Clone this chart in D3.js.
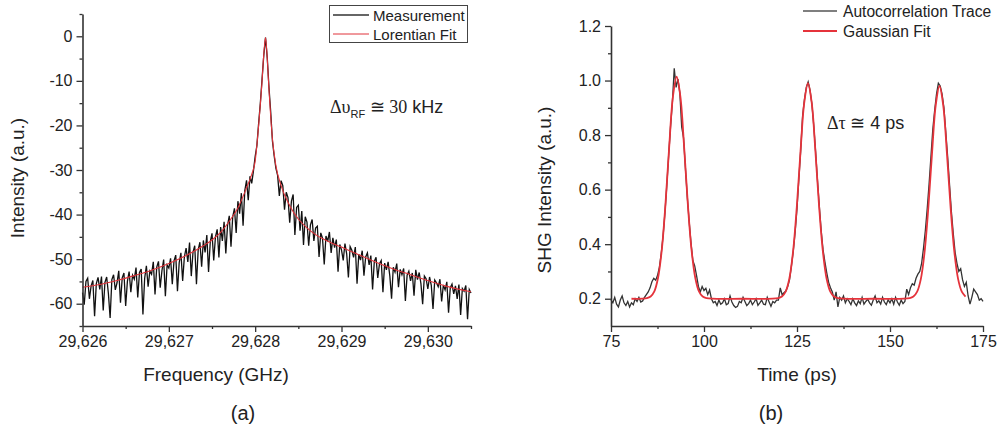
<!DOCTYPE html>
<html><head><meta charset="utf-8">
<script src="https://cdn.jsdelivr.net/npm/d3@7"></script>
<style>
body{margin:0;background:#fff;}
svg text{font-family:"Liberation Sans",Arial,sans-serif;fill:#222;}
</style></head>
<body>
<svg id="chart" width="999" height="430"></svg>
<script>
// ---------- Panel (a): RF spectrum ----------
const freqStart = 29626, freqStep = 0.02;
const measDb = [
-57.5,-60.2,-55.0,-54.3,-58.9,-56.0,-54.8,-62.8,-55.5,-54.1,
-56.8,-53.9,-61.5,-55.2,-54.0,-57.7,-63.2,-54.6,-53.5,-56.9,
-55.3,-52.6,-59.8,-54.2,-53.1,-60.5,-55.0,-52.8,-57.4,-53.6,
-54.5,-51.9,-58.6,-53.0,-52.2,-62.4,-54.3,-51.5,-56.2,-52.7,
-53.4,-50.6,-57.9,-51.8,-50.5,-56.4,-52.6,-50.1,-58.3,-51.3,
-52.0,-49.8,-55.6,-50.4,-49.1,-57.2,-50.8,-48.6,-54.9,-49.5,
-47.5,-50.6,-46.3,-53.8,-48.4,-47.0,-55.6,-47.9,-46.2,-51.7,
-45.8,-48.5,-44.6,-52.9,-46.1,-44.2,-50.3,-45.0,-43.3,-49.6,
-42.8,-45.9,-41.6,-48.7,-42.4,-40.3,-47.2,-40.5,-38.6,-44.1,
-37.0,-39.8,-35.2,-42.5,-34.6,-32.3,-36.8,-31.4,-33.0,-30.2,
-27.0,-24.5,-19.6,-15.0,-9.6,-4.2,
-0.3,
-4.8,-11.5,-17.0,-23.5,-26.8,-29.6,-31.2,-35.8,-32.4,
-33.5,-38.9,-35.0,-36.2,-41.8,-37.0,-35.5,-44.6,-38.4,-37.9,
-43.6,-39.2,-46.8,-40.5,-41.7,-47.0,-42.3,-41.1,-45.9,-43.0,
-42.6,-49.5,-44.1,-45.3,-51.2,-44.8,-46.0,-43.9,-48.6,-45.2,
-47.4,-45.6,-52.8,-46.7,-47.9,-50.3,-46.5,-48.8,-54.1,-47.2,
-48.0,-49.6,-47.3,-55.5,-48.9,-50.2,-48.1,-53.7,-49.5,-48.6,
-51.3,-49.2,-56.8,-50.5,-49.6,-54.2,-51.0,-50.3,-57.4,-50.9,
-52.4,-50.6,-53.8,-58.9,-51.8,-52.9,-51.0,-56.3,-52.3,-53.5,
-52.1,-59.4,-53.6,-52.7,-54.9,-53.1,-58.2,-52.4,-54.6,-53.0,
-55.5,-60.1,-53.8,-54.4,-56.7,-54.0,-55.9,-61.2,-54.7,-55.3,
-56.2,-54.5,-59.5,-55.8,-56.9,-55.1,-62.0,-56.4,-55.6,-57.8,
-56.0,-58.9,-55.7,-62.5,-56.6,-57.2,-55.9,-63.5,-56.8,-57.6
];
const lorFreq = [29626.0,29626.2,29626.4,29626.6,29626.8,29627.0,29627.2,29627.4,29627.5,29627.6,29627.7,29627.8,29627.9,29627.96,29628.0,29628.04,29628.08,29628.10,29628.12,29628.14,29628.16,29628.18,29628.20,29628.24,29628.30,29628.40,29628.50,29628.60,29628.70,29628.80,29629.0,29629.2,29629.4,29629.6,29629.8,29630.0,29630.2,29630.5];
const lorDb   = [-56.3,-55.7,-54.8,-53.7,-52.5,-51.0,-49.2,-47.0,-45.7,-44.0,-41.5,-38.5,-34.0,-31.0,-28.0,-20.0,-10.0,-4.0,-0.3,-5.0,-12.0,-18.0,-23.0,-29.0,-33.5,-38.0,-41.0,-43.0,-44.5,-45.6,-47.3,-49.0,-50.7,-52.2,-53.5,-54.8,-56.0,-57.3];
const freqTicks = [29626,29627,29628,29629,29630];
const freqTickLabels = ["29,626","29,627","29,628","29,629","29,630"];
const dbTicks = [0,-10,-20,-30,-40,-50,-60];
const dbTickLabels = ["0","-10","-20","-30","-40","-50","-60"];
const legendA = ["Measurement","Lorentian Fit"];

// ---------- Panel (b): autocorrelation ----------
const timeStart = 75, timeStep = 0.5;
const acTrace = [
0.195,0.185,0.205,0.180,0.170,0.195,0.210,0.185,0.175,0.190,
0.170,0.185,0.178,0.200,0.190,0.205,0.188,0.192,0.205,0.215,
0.225,0.240,0.262,0.275,0.268,0.285,0.315,0.365,0.430,0.515,
0.615,0.725,0.830,0.920,1.045,0.975,1.005,0.955,0.830,0.790,
0.680,0.575,0.485,0.405,0.340,0.320,0.285,0.245,0.225,0.245,
0.230,0.238,0.215,0.232,0.200,0.185,0.190,0.175,0.195,0.180,
0.185,0.200,0.178,0.182,0.210,0.188,0.175,0.168,0.172,0.190,
0.185,0.205,0.190,0.175,0.182,0.195,0.178,0.188,0.200,0.176,
0.185,0.195,0.180,0.178,0.205,0.188,0.172,0.190,0.185,0.195,
0.195,0.240,0.215,0.222,0.228,0.245,0.270,0.320,0.375,0.445,
0.530,0.640,0.745,0.870,0.930,0.975,0.995,0.965,0.915,0.835,
0.740,0.635,0.540,0.450,0.380,0.335,0.295,0.260,0.240,0.225,
0.195,0.225,0.170,0.205,0.195,0.210,0.185,0.200,0.190,0.178,
0.200,0.185,0.175,0.192,0.182,0.205,0.180,0.190,0.198,0.185,
0.176,0.195,0.210,0.185,0.192,0.180,0.205,0.188,0.178,0.196,
0.185,0.200,0.180,0.205,0.188,0.176,0.195,0.182,0.190,0.235,
0.215,0.240,0.255,0.250,0.275,0.290,0.300,0.330,0.385,0.450,
0.530,0.620,0.720,0.820,0.890,0.950,0.990,0.980,0.950,0.900,
0.810,0.720,0.620,0.520,0.440,0.370,0.330,0.300,0.310,0.270,
0.245,0.260,0.210,0.180,0.205,0.235,0.225,0.215,0.195,0.200,
0.190
];
const gaussTime = [80.5,84.65,85.65,86.65,87.65,88.65,89.65,90.65,91.65,92.65,93.65,94.65,95.65,96.65,97.65,98.65,99.65,100.65,110.3,
119.95,120.95,121.95,122.95,123.95,124.95,125.95,126.95,127.95,128.95,129.95,130.95,131.95,132.95,133.95,134.95,135.95,145.6,
155.3,156.3,157.3,158.3,159.3,160.3,161.3,162.3,163.3,164.3,165.3,166.3,167.3,168.3,169.3,170.3];
const gaussVal = [0.200,0.202,0.208,0.227,0.277,0.379,0.548,0.758,0.941,1.014,0.941,0.758,0.548,0.379,0.277,0.227,0.208,0.202,0.200,
0.202,0.208,0.226,0.274,0.374,0.537,0.741,0.919,0.990,0.919,0.741,0.537,0.374,0.274,0.226,0.208,0.202,0.200,
0.202,0.208,0.226,0.273,0.372,0.533,0.734,0.910,0.980,0.910,0.734,0.533,0.372,0.273,0.226,0.208];
const timeTicks = [75,100,125,150,175];
const timeTickLabels = ["75","100","125","150","175"];
const shgTicks = [0.2,0.4,0.6,0.8,1.0,1.2];
const shgTickLabels = ["0.2","0.4","0.6","0.8","1.0","1.2"];
const legendB = ["Autocorrelation Trace","Gaussian Fit"];

const svg = d3.select("#chart");
const AX = "#333";

function drawAxes(g, x, y, xt, xtl, xminor, yt, ytl, yminor){
  const xa = d3.axisBottom(x).tickValues(xt).tickFormat((d,i)=>xtl[i]).tickSize(6).tickSizeOuter(0).tickPadding(4);
  const ya = d3.axisLeft(y).tickValues(yt).tickFormat((d,i)=>ytl[i]).tickSize(6).tickSizeOuter(0).tickPadding(4);
  const y0 = y.range()[0], x0 = x.range()[0];
  const gx = g.append("g").attr("transform",`translate(0,${y0})`).call(xa);
  const gy = g.append("g").attr("transform",`translate(${x0},0)`).call(ya);
  g.append("g").attr("transform",`translate(0,${y0})`)
    .call(d3.axisBottom(x).tickValues(xminor).tickFormat("").tickSize(3).tickSizeOuter(0))
    .select(".domain").remove();
  g.append("g").attr("transform",`translate(${x0},0)`)
    .call(d3.axisLeft(y).tickValues(yminor).tickFormat("").tickSize(3).tickSizeOuter(0))
    .select(".domain").remove();
  g.selectAll(".domain").attr("stroke",AX).attr("stroke-width",1.6);
  g.selectAll(".tick line").attr("stroke",AX).attr("stroke-width",1.3);
  gx.selectAll("text").attr("font-size",16).attr("fill","#222").attr("font-family","Liberation Sans, Arial, sans-serif");
  gy.selectAll("text").attr("font-size",16).attr("fill","#222").attr("font-family","Liberation Sans, Arial, sans-serif");
}

// ----- Panel a -----
const xL = d3.scaleLinear().domain([29626,29630.5]).range([82.5,471]);
const yL = d3.scaleLinear().domain([-65,5]).range([326,14]);
const gA = svg.append("g");
const lineMeas = d3.line().x((d,i)=>xL(freqStart+i*freqStep)).y(d=>yL(d));
gA.append("path").datum(measDb).attr("d",lineMeas).attr("fill","none").attr("stroke","#111").attr("stroke-width",1.3);
const lineLor = d3.line().x((d,i)=>xL(lorFreq[i])).y(d=>yL(d)).curve(d3.curveMonotoneX);
gA.append("path").datum(lorDb).attr("d",lineLor).attr("fill","none").attr("stroke","#e0333a").attr("stroke-width",1.1);
drawAxes(gA,xL,yL,freqTicks,freqTickLabels,[29626.5,29627.5,29628.5,29629.5,29630.5],
  dbTicks,dbTickLabels,[5,-5,-15,-25,-35,-45,-55,-65]);
gA.append("text").attr("x",216).attr("y",381).attr("text-anchor","middle").attr("font-size",19).text("Frequency (GHz)");
gA.append("text").attr("transform","translate(24,178) rotate(-90)").attr("text-anchor","middle").attr("font-size",19).text("Intensity (a.u.)");
// legend box
gA.append("rect").attr("x",329.5).attr("y",5.5).attr("width",138).attr("height",37).attr("fill","#fff").attr("stroke","#444").attr("stroke-width",1);
[["#333",1.5],["#e0333a",1]].forEach((s,i)=>{
  const yy = 15 + i*19;
  gA.append("line").attr("x1",333).attr("x2",369).attr("y1",yy).attr("y2",yy).attr("stroke",s[0]).attr("stroke-width",s[1]);
  gA.append("text").attr("x",373).attr("y",yy+5.5).attr("font-size",15).text(legendA[i]);
});
// annotation
const annA = gA.append("text").attr("x",330).attr("y",113).attr("font-size",18);
annA.append("tspan").attr("font-family","Liberation Serif, Times New Roman, serif").text("Δυ");
annA.append("tspan").attr("font-size",11).attr("dy",5).text("RF");
annA.append("tspan").attr("dy",-5).attr("font-family","Liberation Serif, Times New Roman, serif").text(" ≅ 30");
annA.append("tspan").text(" kHz");
gA.append("text").attr("x",243).attr("y",420).attr("text-anchor","middle").attr("font-size",20)
  .attr("font-family","DejaVu Serif, Liberation Serif, serif").text("(a)");

// ----- Panel b -----
const xR = d3.scaleLinear().domain([75,175]).range([611,983]);
const yR = d3.scaleLinear().domain([0.1,1.2]).range([326,26]);
const gB = svg.append("g");
const lineAc = d3.line().x((d,i)=>xR(timeStart+i*timeStep)).y(d=>yR(d));
gB.append("path").datum(acTrace).attr("d",lineAc).attr("fill","none").attr("stroke","#333").attr("stroke-width",1.3);
const lineG = d3.line().x((d,i)=>xR(gaussTime[i])).y(d=>yR(d)).curve(d3.curveCatmullRom.alpha(0.5));
gB.append("path").datum(gaussVal).attr("d",lineG).attr("fill","none").attr("stroke","#e5333b").attr("stroke-width",1.8);
drawAxes(gB,xR,yR,timeTicks,timeTickLabels,[87.5,112.5,137.5,162.5],
  shgTicks,shgTickLabels,[0.3,0.5,0.7,0.9,1.1]);
gB.append("text").attr("x",797).attr("y",381).attr("text-anchor","middle").attr("font-size",19).text("Time (ps)");
gB.append("text").attr("transform","translate(551,190) rotate(-90)").attr("text-anchor","middle").attr("font-size",19).text("SHG Intensity (a.u.)");
[["#555",1.5],["#e5333b",2]].forEach((s,i)=>{
  const yy = 11 + i*20;
  gB.append("line").attr("x1",803).attr("x2",837).attr("y1",yy).attr("y2",yy).attr("stroke",s[0]).attr("stroke-width",s[1]);
  gB.append("text").attr("x",843).attr("y",yy+5.5).attr("font-size",15.6).text(legendB[i]);
});
const annB = gB.append("text").attr("x",827).attr("y",129).attr("font-size",18);
annB.append("tspan").attr("font-family","Liberation Serif, Times New Roman, serif").text("Δτ ≅");
annB.append("tspan").text(" 4 ps");
gB.append("text").attr("x",771).attr("y",420).attr("text-anchor","middle").attr("font-size",20)
  .attr("font-family","DejaVu Serif, Liberation Serif, serif").text("(b)");
</script>
</body></html>
